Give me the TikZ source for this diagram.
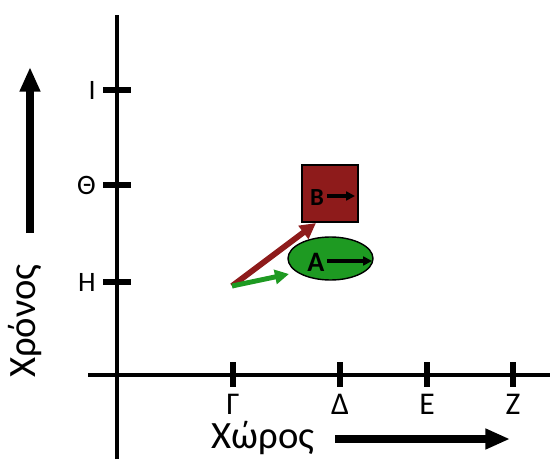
\documentclass[tikz,border=0pt]{standalone}
\usepackage{fontspec}
\setmainfont{Carlito}
\usetikzlibrary{arrows.meta,positioning,shapes.geometric}
\definecolor{boxred}{HTML}{8E1B1B}
\definecolor{ovgreen}{HTML}{1E9A22}
\tikzstyle{axline} = [line width=2.2pt, black]
\tikzstyle{tickln} = [line width=3pt, black]
\tikzstyle{ticklbl} = [font=\fontsize{16}{16}\selectfont, inner sep=0pt]
\tikzstyle{bigar} = [style={-{Triangle[length=14pt,width=11pt]},line width=4.2pt,black}]
\tikzstyle{ndbox} = [draw, line width=0.8pt, fill=boxred, minimum width=56*0.02cm, minimum height=57*0.02cm, inner sep=0pt]
\tikzstyle{ndoval} = [draw, line width=0.8pt, fill=ovgreen, shape=ellipse, minimum width=85*0.02cm, minimum height=43*0.02cm, inner sep=0pt]
\tikzstyle{armove} = [style={-{Triangle[length=5pt,width=5pt]},line width=2pt,black}]

\begin{document}
\begin{tikzpicture}[x=0.02cm, y=-0.02cm]
	\useasboundingbox (0,0) rectangle (550,459);
	% axes
	\coordinate (ytop) at (117,15);
	\coordinate (ybot) at (117,459);
	\coordinate (xl) at (88,375);
	\coordinate (xr) at (550,375);
	\draw[axline] (ybot) -- (ytop);
	\draw[axline] (xl) -- (xr);
	% time ticks
	\foreach \y/\t/\n in {90/Ι/ti, 185/Θ/tth, 282/Η/th} {
		\coordinate (\n a) at (103,\y);
		\coordinate (\n b) at (131,\y);
		\draw[tickln] (\n a) -- (\n b);
		\node[ticklbl, left=4pt of \n a] (\n l) {\t};
	}
	% space ticks
	\foreach \x/\t/\n in {233/Γ/sg, 340/Δ/sd, 427/Ε/se, 513/Ζ/sz} {
		\coordinate (\n a) at (\x,362);
		\coordinate (\n b) at (\x,387);
		\draw[tickln] (\n a) -- (\n b);
		\node[ticklbl, font=\fontsize{18}{18}\selectfont] (\n l) at (\x,404) {\t};
	}
	% axis titles
	\node[rotate=90, inner sep=0pt, font=\fontsize{22}{22}\selectfont] (tlbl) at (25,321) {Χρόνος};
	\coordinate (tarb) at (30,233);
	\coordinate (tart) at (30,67);
	\draw[bigar] (tarb) -- (tart);
	\node[inner sep=0pt, font=\fontsize{22}{22}\selectfont] (slbl) at (263,438) {Χώρος};
	\coordinate (sarl) at (335,439);
	\coordinate (sarr) at (510,439);
	\draw[bigar] (sarl) -- (sarr);
	% objects
	\node[ndbox] (B) at (330,193.5) {};
	\node[font=\bfseries\fontsize{14}{14}\selectfont] (Bt) at (317,198) {B};
	\coordinate (Bs) at (327,196);
	\coordinate (Be) at (355,196);
	\draw[armove, line width=1.8pt] (Bs) -- (Be);
	\node[ndoval] (A) at (330.5,258.5) {};
	\node[font=\bfseries\fontsize{16}{16}\selectfont] (At) at (316,262) {A};
	\coordinate (As) at (327,261);
	\coordinate (Ae) at (372,261);
	\draw[armove, line width=2.6pt] (As) -- (Ae);
	% motion arrows
	\coordinate (O) at (232,286);
	\coordinate (rtip) at (316,223);
	\coordinate (gtip) at (289,274);
	\draw[-{Triangle[length=9pt,width=9pt]}, line width=3.3pt, boxred] (O) -- (rtip);
	\draw[-{Triangle[length=8pt,width=8pt]}, line width=2.8pt, ovgreen] (O) -- (gtip);
\end{tikzpicture}
\end{document}
